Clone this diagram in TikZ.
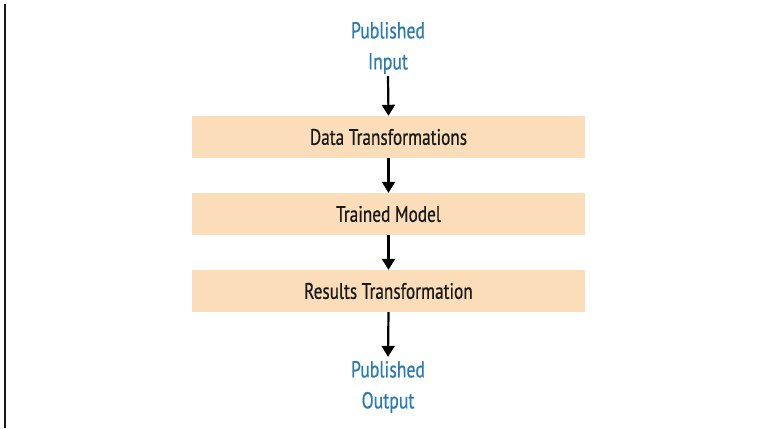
\documentclass[tikz,border=0pt]{standalone}
\usepackage{fontspec}
\setmainfont[FakeStretch=0.77,FakeBold=0.6]{PT Sans}
\usetikzlibrary{arrows.meta}
\definecolor{boxfill}{HTML}{FBDDB9}
\definecolor{pubblue}{HTML}{2B7BB3}
\begin{document}
\begin{tikzpicture}[x=1pt,y=-1pt,
  stage/.style={fill=boxfill,draw=none,minimum width=393pt,minimum height=42pt,inner sep=0pt,font=\fontsize{22.4}{24}\selectfont,text=black!90},
  pub/.style={text=pubblue,align=center,font=\fontsize{23}{31}\selectfont,inner sep=0pt},
  flow/.style={line width=2.2pt,-{Triangle[width=13pt,length=11pt]}}]
\useasboundingbox (0,0) rectangle (765,428);
\fill[white] (0,0) rectangle (765,428);
\draw[line width=2pt,black!90] (5,4) coordinate (ltop) -- (5,428) coordinate (lbot);
\node[pub] (in) at (388,48) {Published\\Input};
\node[stage] (dt) at (388.5,137) {Data Transformations};
\node[stage] (tm) at (388.5,214) {Trained Model};
\node[stage] (rt) at (388.5,291) {Results Transformation};
\node[pub] (out) at (388,387) {Published\\Output};
\draw[flow] ([yshift=-2pt]in.south) -- (dt.north);
\draw[flow] (dt.south) -- (tm.north);
\draw[flow] (tm.south) -- (rt.north);
\draw[flow] (rt.south) -- ([yshift=4pt]out.north);
\end{tikzpicture}
\end{document}
